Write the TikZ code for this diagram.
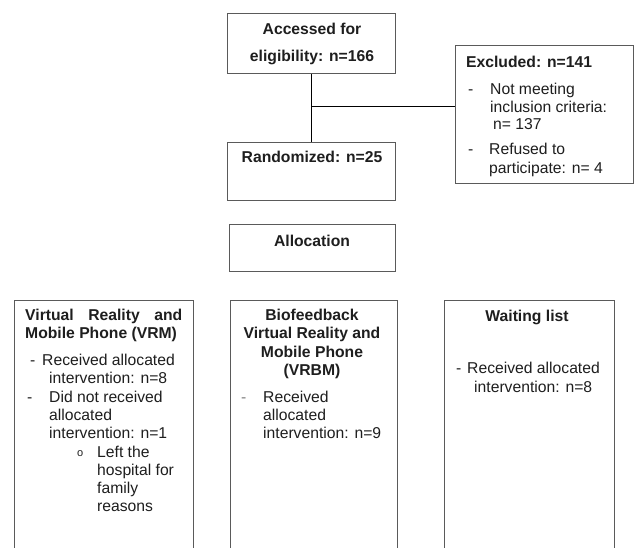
\documentclass[tikz,border=0pt]{standalone}
\usepackage{fontspec}
\setmainfont{Liberation Sans}
\definecolor{boxgray}{HTML}{5A5A5A}
\definecolor{textcol}{HTML}{1E1E1E}
\newcommand\diafont{\fontsize{15.7}{18}\selectfont}
\begin{document}
\begin{tikzpicture}[x=1pt,y=-1pt,
  box/.style={draw=boxgray, line width=0.9pt, inner sep=0pt, anchor=north west},
  conn/.style={draw=black, line width=0.9pt},
  txt/.style={inner sep=0pt, anchor=base west, font=\diafont, text=textcol},
  btxt/.style={inner sep=0pt, anchor=base west, font=\diafont\bfseries, text=textcol},
  ctxt/.style={inner sep=0pt, anchor=base, font=\diafont\bfseries, text=textcol}]
\useasboundingbox (0,0) rectangle (635,547);
\clip (0,0) rectangle (635,547);
\fill[white] (0,0) rectangle (635,547);

% boxes
\node[box, minimum width=168pt, minimum height=60pt] (access) at (227,13) {};
\node[box, minimum width=178pt, minimum height=138pt] (excl) at (455,45) {};
\node[box, minimum width=168pt, minimum height=58pt] (rand) at (227,142) {};
\node[box, minimum width=166pt, minimum height=47pt] (alloc) at (229,224) {};
\node[box, minimum width=179pt, minimum height=262pt] (vrm) at (14,300) {};
\node[box, minimum width=167pt, minimum height=262pt] (vrbm) at (230,300) {};
\node[box, minimum width=170pt, minimum height=262pt] (wait) at (444,300) {};

% connectors
\path (access.south) ++(0,33) coordinate (j);
\draw[conn] (access.south) -- (rand.north);
\draw[conn] (j) -- (j -| excl.west);

% texts: access
\node[ctxt] (t1) at (312,34) {Accessed for};
\node[ctxt] (t2) at (312,61) {eligibility: n=166};
% excluded
\node[btxt] (e0) at (466,67) {Excluded: n=141};
\node[txt] (e1d) at (468,94) {-};
\node[txt] (e1) at (490,94) {Not meeting};
\node[txt] (e2) at (490,112) {inclusion criteria:};
\node[txt] (e3) at (493,129) {n= 137};
\node[txt] (e4d) at (468,154) {-};
\node[txt] (e4) at (489,154) {Refused to};
\node[txt] (e5) at (489,173) {participate: n= 4};
% randomized / allocation
\node[ctxt] (r0) at (312,162) {Randomized: n=25};
\node[ctxt] (a0) at (312,246) {Allocation};
% VRM
\node[btxt] (v0) at (25,320) {\makebox[157pt][s]{Virtual Reality and}};
\node[btxt] (v1) at (25,338) {Mobile Phone (VRM)};
\node[txt] (v2d) at (30,365) {-};
\node[txt] (v2) at (42,365) {Received allocated};
\node[txt] (v3) at (49,383) {intervention: n=8};
\node[txt] (v4d) at (27,402) {-};
\node[txt] (v4) at (49,402) {Did not received};
\node[txt] (v5) at (49,420) {allocated};
\node[txt] (v6) at (49,438) {intervention: n=1};
\node[txt, font=\fontsize{11}{13}\selectfont] (v7o) at (77,456) {o};
\node[txt] (v7) at (97,457) {Left the};
\node[txt] (v8) at (97,475) {hospital for};
\node[txt] (v9) at (97,493) {family};
\node[txt] (v10) at (97,511) {reasons};
% VRBM
\node[ctxt] (b0) at (312,320) {Biofeedback};
\node[ctxt] (b1) at (312,338) {Virtual Reality and};
\node[ctxt] (b2) at (312,357) {Mobile Phone};
\node[ctxt] (b3) at (312,375) {(VRBM)};
\node[txt, text=gray] (b4d) at (241,402) {-};
\node[txt] (b4) at (263,402) {Received};
\node[txt] (b5) at (263,420) {allocated};
\node[txt] (b6) at (263,438) {intervention: n=9};
% waiting
\node[ctxt] (w0) at (527,321) {Waiting list};
\node[txt] (w1d) at (456,373) {-};
\node[txt] (w1) at (467,373) {Received allocated};
\node[txt] (w2) at (474,392) {intervention: n=8};
\end{tikzpicture}
\end{document}
